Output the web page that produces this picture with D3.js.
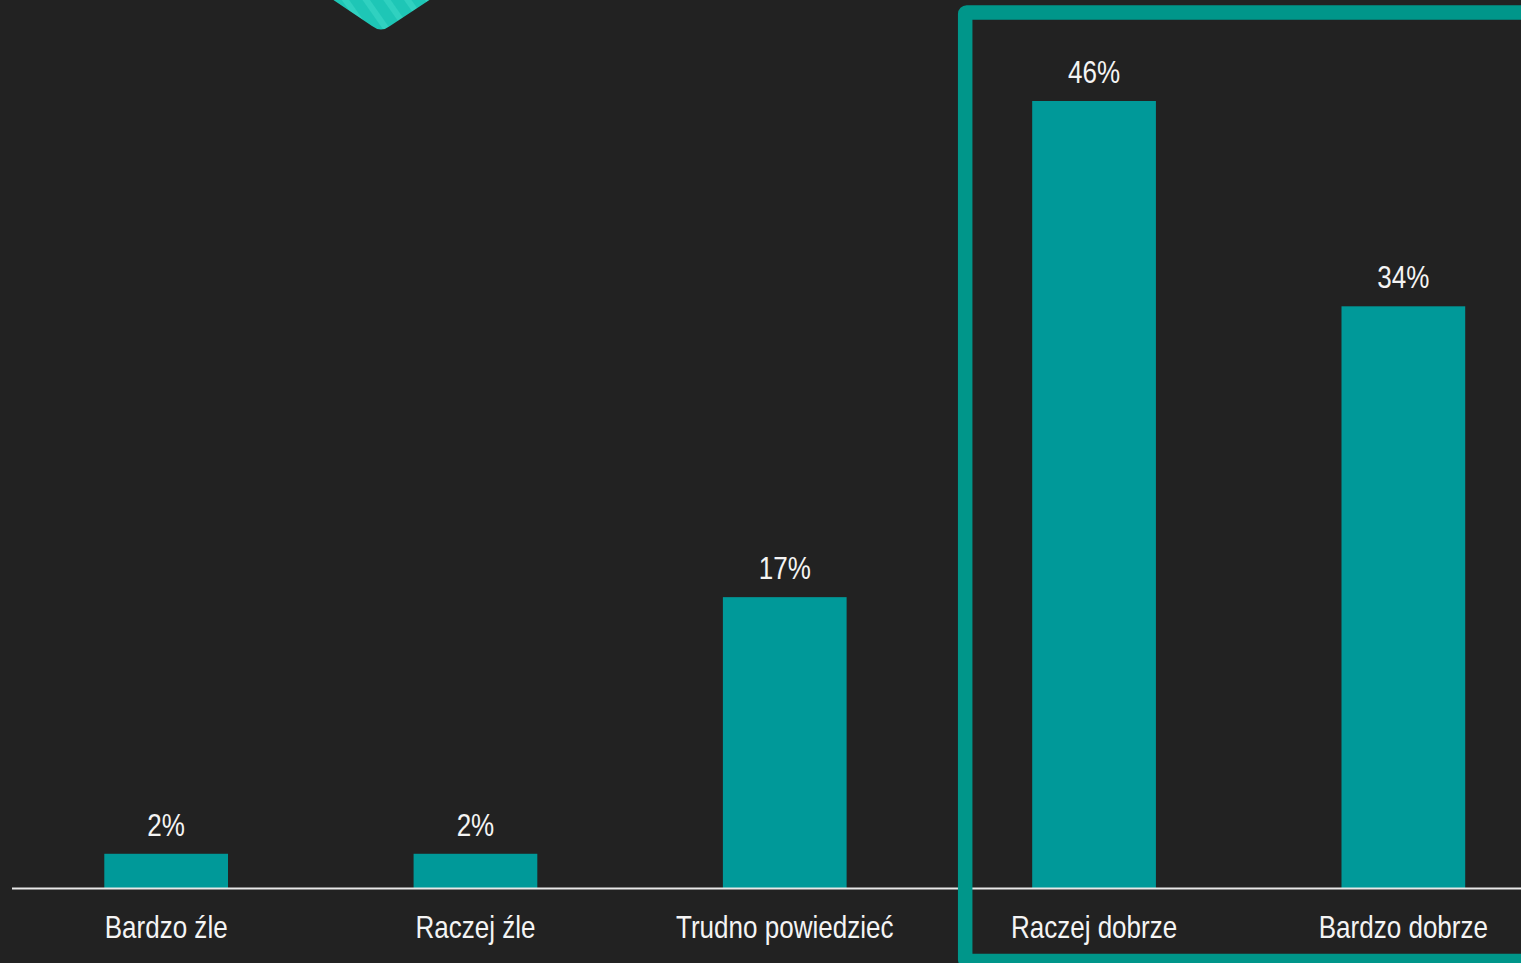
<!DOCTYPE html>
<html lang="pl">
<head>
<meta charset="utf-8">
<script src="https://cdn.jsdelivr.net/npm/d3@7"></script>
<style>
  html, body { margin: 0; padding: 0; background: #222222; overflow: hidden; }
  svg { display: block; }
  .lbl { font-family: "Liberation Sans", Arial, sans-serif; fill: #f4f4f4; }
</style>
</head>
<body>
<svg id="chart" width="1521" height="963"></svg>
<script>
// Survey answers and their shares (%)
const categories = ["Bardzo źle", "Raczej źle", "Trudno powiedzieć", "Raczej dobrze", "Bardzo dobrze"];
const values = [2, 2, 17, 46, 34];
// Answers enclosed by the highlight frame
const highlighted = ["Raczej dobrze", "Bardzo dobrze"];

const W = 1521, H = 963;
const baseY = 888;
const teal = "#009999";
const frameTeal = "#00968a";
const narrow = 0.84; // horizontal squeeze giving a narrow typeface look

const svg = d3.select("#chart");

svg.append("rect").attr("width", W).attr("height", H).attr("fill", "#222222");

// Striped accent shape peeking in from the top edge
const defs = svg.append("defs");
const pat = defs.append("pattern")
  .attr("id", "stripes")
  .attr("patternUnits", "userSpaceOnUse")
  .attr("width", 17).attr("height", 17)
  .attr("patternTransform", "rotate(-35)");
pat.append("rect").attr("width", 17).attr("height", 17).attr("fill", "#1ec6b6");
pat.append("rect").attr("x", 8).attr("width", 6).attr("height", 17).attr("fill", "#34d3c3").attr("opacity", 0.8);

svg.append("path")
  .attr("d", "M326,-5 L372,26 Q381,33 390,26 L437,-5 Z")
  .attr("fill", "url(#stripes)");

const x = d3.scaleBand()
  .domain(categories)
  .range([11.5, 1558])
  .paddingInner(0.6)
  .paddingOuter(0.3);

const y = d3.scaleLinear()
  .domain([0, 46])
  .range([baseY, 101]);

// Bars
svg.append("g").selectAll("rect")
  .data(categories)
  .join("rect")
  .attr("x", d => x(d))
  .attr("width", x.bandwidth())
  .attr("y", (d, i) => y(values[i]))
  .attr("height", (d, i) => y(0) - y(values[i]))
  .attr("fill", teal);

// Value labels above the bars
svg.append("g").selectAll("text")
  .data(categories)
  .join("text")
  .attr("class", "lbl")
  .attr("transform", (d, i) => `translate(${x(d) + x.bandwidth() / 2},${y(values[i]) - 18}) scale(${narrow},1)`)
  .attr("text-anchor", "middle")
  .attr("font-size", 31)
  .text((d, i) => values[i] + "%");

// Category axis
const axis = svg.append("g")
  .attr("transform", `translate(0,${baseY})`)
  .call(d3.axisBottom(x).tickSize(0).tickPadding(0));
axis.attr("font-family", null).attr("font-size", null);
axis.select(".domain").attr("stroke", "#e8e8e8").attr("stroke-width", 2);
axis.selectAll(".tick text")
  .attr("class", "lbl")
  .attr("y", 0)
  .attr("dy", null)
  .attr("font-size", 31)
  .attr("fill", "#f4f4f4")
  .attr("transform", `translate(0,50) scale(${narrow},1)`);

// Highlight frame around the positive answers
const fx = x(highlighted[0]) - 67;
svg.append("rect")
  .attr("x", fx)
  .attr("y", 12.5)
  .attr("width", W + 40 - fx)
  .attr("height", 948.5)
  .attr("rx", 1.5)
  .attr("fill", "none")
  .attr("stroke", frameTeal)
  .attr("stroke-width", 14.5);
</script>
</body>
</html>
